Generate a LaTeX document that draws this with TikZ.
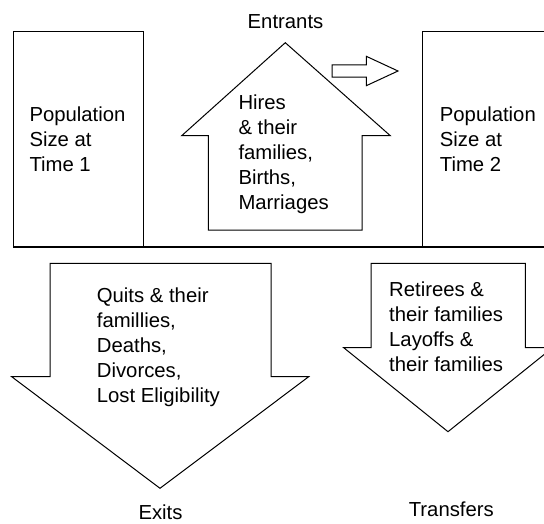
\documentclass[tikz,border=0pt]{standalone}
\usepackage{fontspec}
\setmainfont{Liberation Sans}
\begin{document}
\begin{tikzpicture}[x=1pt,y=-1pt,
  shape line/.style={draw=black,line width=1pt,line join=miter},
  lbl/.style={inner sep=0pt,align=left,anchor=base west,font=\fontsize{20.3}{25}\selectfont},
  titletext/.style={inner sep=0pt,anchor=base,font=\fontsize{20.3}{25}\selectfont}]
\useasboundingbox (0,0) rectangle (544,523);
% population boxes
\draw[shape line] (13,31) rectangle (143,247);
\draw[shape line] (560,31) -- (422,31) -- (422,247);
\draw[line width=1.6pt] (13,247) -- (560,247);
% entrants house arrow
\draw[shape line] (208.3,230) -- (208.3,135.7) -- (181.7,135.7) -- (285.3,42.7)
  -- (390.3,135.7) -- (362,135.7) -- (362,230) -- cycle;
% small right arrow
\draw[shape line] (332,64.8) -- (366.3,64.8) -- (366.3,56.3) -- (398,71) -- (366.3,85.7)
  -- (366.3,77.2) -- (332,77.2) -- cycle;
% exits arrow
\draw[shape line] (50,263.3) -- (271,263.3) -- (271,376.7) -- (308.7,376.7) -- (160,488.3)
  -- (11.7,376.7) -- (50,376.7) -- cycle;
% transfers arrow
\draw[shape line] (371,263.3) -- (525.3,263.3) -- (525.3,347.7) -- (552.6,347.7) -- (448,431.7)
  -- (343.7,347.7) -- (371,347.7) -- cycle;
% texts (anchor at baseline of last line)
\node[lbl] (pop1) at (29.3,171.5) {Population\\Size at\\Time 1};
\node[lbl] (pop2) at (439.7,171.5) {Population\\Size at\\Time 2};
\node[lbl] (hires) at (238.3,209.2) {Hires\\\& their\\families,\\Births,\\Marriages};
\node[lbl] (quits) at (96.7,402.5) {Quits \& their\\famillies,\\Deaths,\\Divorces,\\Lost Eligibility};
\node[lbl] (retirees) at (389,371.7) {Retirees \&\\their families\\Layoffs \&\\their families};
\node[titletext] (entrants) at (285.5,28.3) {Entrants};
\node[titletext] (exits) at (160.5,519) {Exits};
\node[titletext] (transfers) at (451.3,516.7) {Transfers};
\end{tikzpicture}
\end{document}
